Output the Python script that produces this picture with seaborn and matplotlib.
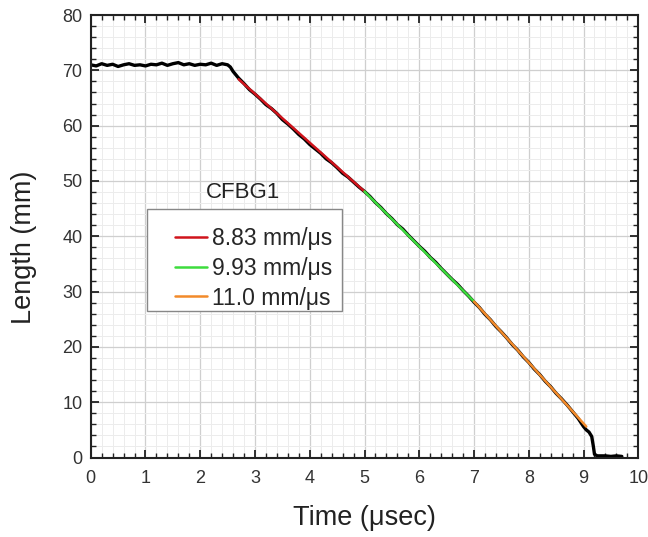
"""Length vs time for CFBG1 with piecewise velocity fits."""

import matplotlib.pyplot as plt
import pandas as pd
import seaborn as sns
from matplotlib.patches import Rectangle
from matplotlib.ticker import MultipleLocator

time_us = [
    0.0, 0.1, 0.2, 0.3, 0.4, 0.5, 0.6, 0.7, 0.8, 0.9,
    1.0, 1.1, 1.2, 1.3, 1.4, 1.5, 1.6, 1.7, 1.8, 1.9,
    2.0, 2.1, 2.2, 2.3, 2.4, 2.5, 2.55, 2.6, 2.7, 2.8,
    2.9, 3.0, 3.1, 3.2, 3.3, 3.4, 3.5, 3.6, 3.7, 3.8,
    3.9, 4.0, 4.1, 4.2, 4.3, 4.4, 4.5, 4.6, 4.7, 4.8,
    4.9, 5.0, 5.1, 5.2, 5.3, 5.4, 5.5, 5.6, 5.7, 5.8,
    5.9, 6.0, 6.1, 6.2, 6.3, 6.4, 6.5, 6.6, 6.7, 6.8,
    6.9, 7.0, 7.1, 7.2, 7.3, 7.4, 7.5, 7.6, 7.7, 7.8,
    7.9, 8.0, 8.1, 8.2, 8.3, 8.4, 8.5, 8.6, 8.7, 8.8,
    8.9, 9.0, 9.05, 9.1, 9.15, 9.18, 9.2, 9.25, 9.4, 9.5,
    9.6, 9.7,
]
length_mm = [
    71.0, 70.8, 71.2, 70.9, 71.1, 70.7, 71.0, 71.2, 70.9, 71.0,
    70.8, 71.1, 71.0, 71.3, 70.9, 71.2, 71.4, 71.0, 71.2, 70.9,
    71.1, 71.0, 71.3, 70.9, 71.2, 71.0, 70.6, 69.8, 68.6, 67.6,
    66.5, 65.7, 64.8, 63.8, 63.1, 62.2, 61.1, 60.3, 59.4, 58.4,
    57.6, 56.6, 55.8, 55.0, 54.0, 53.3, 52.4, 51.4, 50.7, 49.8,
    48.9, 48.1, 47.2, 46.1, 45.2, 44.1, 43.2, 42.1, 41.3, 40.2,
    39.2, 38.2, 37.3, 36.2, 35.3, 34.2, 33.2, 32.2, 31.3, 30.2,
    29.2, 28.1, 27.1, 25.9, 24.9, 23.7, 22.7, 21.6, 20.4, 19.4,
    18.2, 17.2, 16.0, 15.0, 13.8, 12.8, 11.6, 10.6, 9.5, 8.3,
    7.1, 5.6, 5.0, 4.6, 3.8, 2.0, 0.6, 0.3, 0.3, 0.2,
    0.3, 0.2,
]

# linear fits: start/end of each segment
fit_labels = ["8.83 mm/\u03bcs", "9.93 mm/\u03bcs", "11.0 mm/\u03bcs"]
fit_time = [[2.7, 5.0], [5.0, 7.0], [7.0, 9.05]]
fit_length = [[68.4, 48.1], [48.1, 28.2], [28.2, 5.6]]
fit_colors = ["#d0141c", "#3ddc3d", "#f28a2a"]

sns.set_theme(style="ticks")
plt.rcParams["font.family"] = ["Liberation Sans", "DejaVu Sans"]

trace = pd.DataFrame({"time": time_us, "length": length_mm})

figure = plt.figure(figsize=(6.48, 5.37), dpi=100)
axis = figure.add_axes([0.140, 0.148, 0.845, 0.824])

sns.lineplot(data=trace, x="time", y="length", color="black", linewidth=2.4,
             sort=False, estimator=None, ax=axis)
for label, t, y, c in zip(fit_labels, fit_time, fit_length, fit_colors):
    sns.lineplot(x=t, y=y, color=c, linewidth=1.8, label=label, ax=axis)

axis.set_xlim(0, 10)
axis.set_ylim(0, 80)
axis.xaxis.set_major_locator(MultipleLocator(1))
axis.xaxis.set_minor_locator(MultipleLocator(0.2))
axis.yaxis.set_major_locator(MultipleLocator(10))
axis.yaxis.set_minor_locator(MultipleLocator(2))
axis.grid(which="major", color="#cfcfcf", linewidth=0.9)
axis.grid(which="minor", color="#ececec", linewidth=0.7)
axis.set_axisbelow(True)
axis.tick_params(which="both", direction="in", top=True, right=True,
                 colors="#222222", labelcolor="#333333", labelsize=13)
axis.tick_params(which="major", length=6, width=1.3)
axis.tick_params(which="minor", length=3.5, width=1.0)
axis.tick_params(axis="x", which="major", pad=9)
axis.tick_params(axis="y", which="major", pad=6)
for spine in axis.spines.values():
    spine.set_linewidth(1.5)
    spine.set_color("#222222")

axis.set_xlabel("Time (\u03bcsec)", fontsize=19.5, labelpad=13, color="#222222")
axis.set_ylabel("Length (mm)", fontsize=19.5, color="#222222")
axis.yaxis.set_label_coords(-0.098, 0.475)

# legend frame drawn separately so entries sit where the reference has them
axis.add_patch(Rectangle((0.102, 0.331), 0.357, 0.230, transform=axis.transAxes,
                         facecolor="white", edgecolor="#888888", linewidth=1.0,
                         zorder=4))
legend = axis.legend(loc="center left", bbox_to_anchor=(0.154, 0.428),
                     fontsize=16.5, frameon=False, handlelength=1.4,
                     handletextpad=0.22, labelspacing=0.3,
                     borderpad=0.0, borderaxespad=0.0)
legend.set_zorder(5)
axis.text(0.278, 0.598, "CFBG1", transform=axis.transAxes, fontsize=16,
          ha="center", va="center", color="#222222")

figure.savefig("out.png", dpi=100)
plt.close(figure)
